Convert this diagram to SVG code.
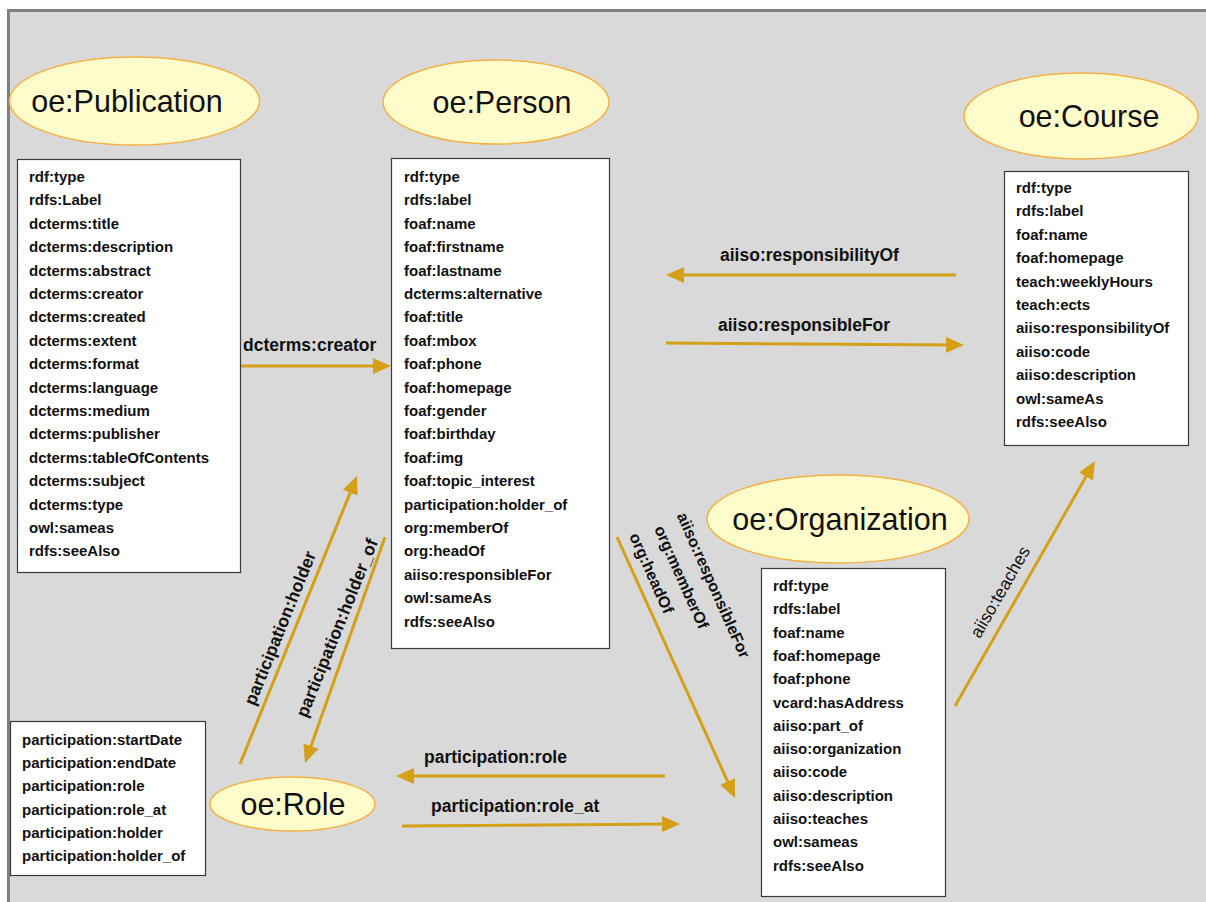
<svg xmlns="http://www.w3.org/2000/svg" width="1206" height="902" viewBox="0 0 1206 902">
<style>
.bg{fill:#d9d9d9;stroke:#808080;stroke-width:3}
.ell{fill:#fffccc;stroke:#f4b042;stroke-width:1.5}
.box{fill:#ffffff;stroke:#3a3a3a;stroke-width:1.2}
.et{font-family:"Liberation Sans",Arial,sans-serif;font-size:30.5px;fill:#111;text-anchor:middle}
.bt{font-family:"Liberation Sans",Arial,sans-serif;font-size:15px;font-weight:bold;fill:#111}
.lb{font-family:"Liberation Sans",Arial,sans-serif;font-size:17.5px;font-weight:bold;fill:#111}
.lo{font-family:"Liberation Sans",Arial,sans-serif;font-size:16px;font-weight:bold;fill:#111;text-anchor:middle}
.lr{font-family:"Liberation Sans",Arial,sans-serif;font-size:17.5px;fill:#111;text-anchor:middle}
.con{stroke:#d4a017;stroke-width:3;fill:none;marker-end:url(#ah)}
</style>
<defs>
<marker id="ah" markerUnits="userSpaceOnUse" markerWidth="18" markerHeight="16" viewBox="0 0 18 16" refX="13" refY="8" orient="auto">
<path d="M0,0 L18,8 L0,16 z" fill="#d4a017"/>
</marker>
</defs>
<rect class="bg" x="8.5" y="10.5" width="1210" height="900"/>

<g id="publication">
<ellipse class="ell" cx="134.5" cy="101" rx="125" ry="44"/>
<text class="et" x="127" y="112">oe:Publication</text>
<rect class="box" x="17.5" y="159.5" width="223" height="413"/>
<text class="bt" x="29" y="182"><tspan x="29" dy="0">rdf:type</tspan><tspan x="29" dy="23.4">rdfs:Label</tspan><tspan x="29" dy="23.4">dcterms:title</tspan><tspan x="29" dy="23.4">dcterms:description</tspan><tspan x="29" dy="23.4">dcterms:abstract</tspan><tspan x="29" dy="23.4">dcterms:creator</tspan><tspan x="29" dy="23.4">dcterms:created</tspan><tspan x="29" dy="23.4">dcterms:extent</tspan><tspan x="29" dy="23.4">dcterms:format</tspan><tspan x="29" dy="23.4">dcterms:language</tspan><tspan x="29" dy="23.4">dcterms:medium</tspan><tspan x="29" dy="23.4">dcterms:publisher</tspan><tspan x="29" dy="23.4">dcterms:tableOfContents</tspan><tspan x="29" dy="23.4">dcterms:subject</tspan><tspan x="29" dy="23.4">dcterms:type</tspan><tspan x="29" dy="23.4">owl:sameas</tspan><tspan x="29" dy="23.4">rdfs:seeAlso</tspan></text>
</g>

<g id="person">
<ellipse class="ell" cx="496" cy="102" rx="113" ry="42"/>
<text class="et" x="502" y="113">oe:Person</text>
<rect class="box" x="391.5" y="158.5" width="218" height="490"/>
<text class="bt" x="404" y="182"><tspan x="404" dy="0">rdf:type</tspan><tspan x="404" dy="23.4">rdfs:label</tspan><tspan x="404" dy="23.4">foaf:name</tspan><tspan x="404" dy="23.4">foaf:firstname</tspan><tspan x="404" dy="23.4">foaf:lastname</tspan><tspan x="404" dy="23.4">dcterms:alternative</tspan><tspan x="404" dy="23.4">foaf:title</tspan><tspan x="404" dy="23.4">foaf:mbox</tspan><tspan x="404" dy="23.4">foaf:phone</tspan><tspan x="404" dy="23.4">foaf:homepage</tspan><tspan x="404" dy="23.4">foaf:gender</tspan><tspan x="404" dy="23.4">foaf:birthday</tspan><tspan x="404" dy="23.4">foaf:img</tspan><tspan x="404" dy="23.4">foaf:topic_interest</tspan><tspan x="404" dy="23.4">participation:holder_of</tspan><tspan x="404" dy="23.4">org:memberOf</tspan><tspan x="404" dy="23.4">org:headOf</tspan><tspan x="404" dy="23.4">aiiso:responsibleFor</tspan><tspan x="404" dy="23.4">owl:sameAs</tspan><tspan x="404" dy="23.4">rdfs:seeAlso</tspan></text>
</g>

<g id="course">
<ellipse class="ell" cx="1081" cy="116" rx="117" ry="43"/>
<text class="et" x="1089" y="127">oe:Course</text>
<rect class="box" x="1004.5" y="171.5" width="184" height="274"/>
<text class="bt" x="1016" y="193"><tspan x="1016" dy="0">rdf:type</tspan><tspan x="1016" dy="23.4">rdfs:label</tspan><tspan x="1016" dy="23.4">foaf:name</tspan><tspan x="1016" dy="23.4">foaf:homepage</tspan><tspan x="1016" dy="23.4">teach:weeklyHours</tspan><tspan x="1016" dy="23.4">teach:ects</tspan><tspan x="1016" dy="23.4">aiiso:responsibilityOf</tspan><tspan x="1016" dy="23.4">aiiso:code</tspan><tspan x="1016" dy="23.4">aiiso:description</tspan><tspan x="1016" dy="23.4">owl:sameAs</tspan><tspan x="1016" dy="23.4">rdfs:seeAlso</tspan></text>
</g>

<g id="organization">
<ellipse class="ell" cx="838" cy="519" rx="131" ry="44"/>
<text class="et" x="840" y="530">oe:Organization</text>
<rect class="box" x="761.5" y="568.5" width="184" height="328"/>
<text class="bt" x="773" y="591"><tspan x="773" dy="0">rdf:type</tspan><tspan x="773" dy="23.3">rdfs:label</tspan><tspan x="773" dy="23.3">foaf:name</tspan><tspan x="773" dy="23.3">foaf:homepage</tspan><tspan x="773" dy="23.3">foaf:phone</tspan><tspan x="773" dy="23.3">vcard:hasAddress</tspan><tspan x="773" dy="23.3">aiiso:part_of</tspan><tspan x="773" dy="23.3">aiiso:organization</tspan><tspan x="773" dy="23.3">aiiso:code</tspan><tspan x="773" dy="23.3">aiiso:description</tspan><tspan x="773" dy="23.3">aiiso:teaches</tspan><tspan x="773" dy="23.3">owl:sameas</tspan><tspan x="773" dy="23.3">rdfs:seeAlso</tspan></text>
</g>

<g id="role">
<ellipse class="ell" cx="292.5" cy="804" rx="82.5" ry="27"/>
<text class="et" x="293" y="815">oe:Role</text>
<rect class="box" x="10.5" y="721.5" width="195" height="154"/>
<text class="bt" x="22" y="745"><tspan x="22" dy="0">participation:startDate</tspan><tspan x="22" dy="23.2">participation:endDate</tspan><tspan x="22" dy="23.2">participation:role</tspan><tspan x="22" dy="23.2">participation:role_at</tspan><tspan x="22" dy="23.2">participation:holder</tspan><tspan x="22" dy="23.2">participation:holder_of</tspan></text>
</g>

<g id="connectors">
<line class="con" x1="241" y1="366" x2="386" y2="366"/>
<line class="con" x1="956" y1="275" x2="671" y2="275"/>
<line class="con" x1="666" y1="343" x2="959" y2="345"/>
<line class="con" x1="665" y1="776" x2="401" y2="776"/>
<line class="con" x1="402" y1="826" x2="675" y2="824"/>
<line class="con" x1="240" y1="764" x2="355.1" y2="480.6"/>
<line class="con" x1="385" y1="537" x2="306.7" y2="758.3"/>
<line class="con" x1="617" y1="537" x2="733" y2="793.4"/>
<line class="con" x1="955" y1="706" x2="1092.5" y2="465.3"/>
<text class="lb" x="243" y="351">dcterms:creator</text>
<text class="lb" x="720" y="261">aiiso:responsibilityOf</text>
<text class="lb" x="718" y="331">aiiso:responsibleFor</text>
<text class="lb" x="424" y="763">participation:role</text>
<text class="lb" x="431" y="812">participation:role_at</text>
<text class="lb" text-anchor="middle" dy="6" transform="translate(280,628) rotate(-68)">participation:holder</text>
<text class="lb" text-anchor="middle" dy="6" transform="translate(337,628) rotate(-68)">participation:holder_of</text>
<text class="lo" dy="6" transform="translate(652,573) rotate(66)">org:headOf</text>
<text class="lo" dy="6" transform="translate(682,577) rotate(66)">org:memberOf</text>
<text class="lo" dy="6" transform="translate(714,585) rotate(66)">aiiso:responsibleFor</text>
<text class="lr" dy="6" transform="translate(1000,592) rotate(-60)">aiiso:teaches</text>
</g>
</svg>
